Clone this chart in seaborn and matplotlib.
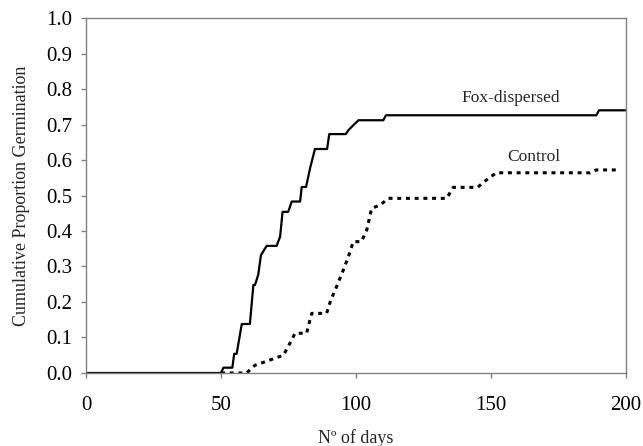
import matplotlib
matplotlib.use("Agg")
import matplotlib.pyplot as plt
import pandas as pd
import seaborn as sns

# cumulative germination
fox_days = [0, 50, 50.9, 54.2, 54.9, 55.8, 57.7, 60.7, 62, 62.6, 63.8, 64.8, 66.9,
            70.6, 71.9, 72.8, 74.9, 76.2, 79.3, 79.9, 81.5, 83, 84.8, 89.3, 90.1,
            96.2, 97.2, 99, 100.9, 110.1, 111.1, 189, 190, 200]
fox_prop = [0, 0, 0.015, 0.015, 0.054, 0.054, 0.138, 0.138, 0.248, 0.248, 0.277,
            0.332, 0.358, 0.358, 0.384, 0.454, 0.454, 0.483, 0.483, 0.524, 0.524,
            0.577, 0.631, 0.631, 0.673, 0.673, 0.684, 0.698, 0.712, 0.712, 0.726,
            0.726, 0.740, 0.740]

ctrl_days = [50, 59.5, 62.6, 65.7, 73.1, 76.2, 77.4, 81.7, 83.6, 89.1, 90.7, 92.8,
             95.3, 97.2, 99, 102, 104, 105.8, 108.9, 112, 133.6, 136, 145, 149,
             152, 186.7, 189, 197]
ctrl_prop = [0, 0, 0.022, 0.03, 0.05, 0.093, 0.112, 0.112, 0.168, 0.168, 0.206,
             0.243, 0.29, 0.328, 0.37, 0.37, 0.403, 0.464, 0.473, 0.492, 0.492,
             0.523, 0.523, 0.548, 0.564, 0.564, 0.572, 0.572]

sns.set_style("ticks")
plt.rcParams["font.family"] = ["Liberation Serif", "DejaVu Serif"]

fox = pd.DataFrame({"days": fox_days, "prop": fox_prop})
ctrl = pd.DataFrame({"days": ctrl_days, "prop": ctrl_prop})

fig = plt.figure(figsize=(6.43, 4.46), dpi=100)
ax = fig.add_axes([0.1337, 0.1637, 0.8399, 0.7959])

sns.lineplot(data=ctrl, x="days", y="prop", ax=ax, sort=False, estimator=None,
             color="black", linewidth=2.2, dashes=False)
ax.lines[-1].set_linestyle((0, (1.3, 1.55)))
ax.lines[-1].set_dash_capstyle("butt")
sns.lineplot(data=fox, x="days", y="prop", ax=ax, sort=False, estimator=None,
             color="black", linewidth=1.6)

ax.text(157.4, 0.775, "Fox-dispersed", ha="center", va="center", fontsize=12.5)
ax.text(166, 0.608, "Control", ha="center", va="center", fontsize=12.5)

ax.set_xlim(0, 200)
ax.set_ylim(0, 1.0)
ax.set_xticks([0, 50, 100, 150, 200])
ax.set_yticks([i / 10 for i in range(11)])
ax.set_yticklabels([f"{i / 10:.1f}" for i in range(11)])
ax.set_xlabel("Nº of days", fontsize=13, labelpad=10)
ax.set_ylabel("Cumulative Proportion Germination", fontsize=13, labelpad=12)

for side in ["left", "right", "top", "bottom"]:
    ax.spines[side].set_color("#808080")
    ax.spines[side].set_linewidth(1.0)
ax.tick_params(axis="both", direction="out", length=3.6, width=1, color="#808080",
               labelsize=15, labelcolor="black")
ax.tick_params(axis="x", pad=13)
ax.tick_params(axis="y", pad=6)

fig.savefig("out.png", dpi=100)
